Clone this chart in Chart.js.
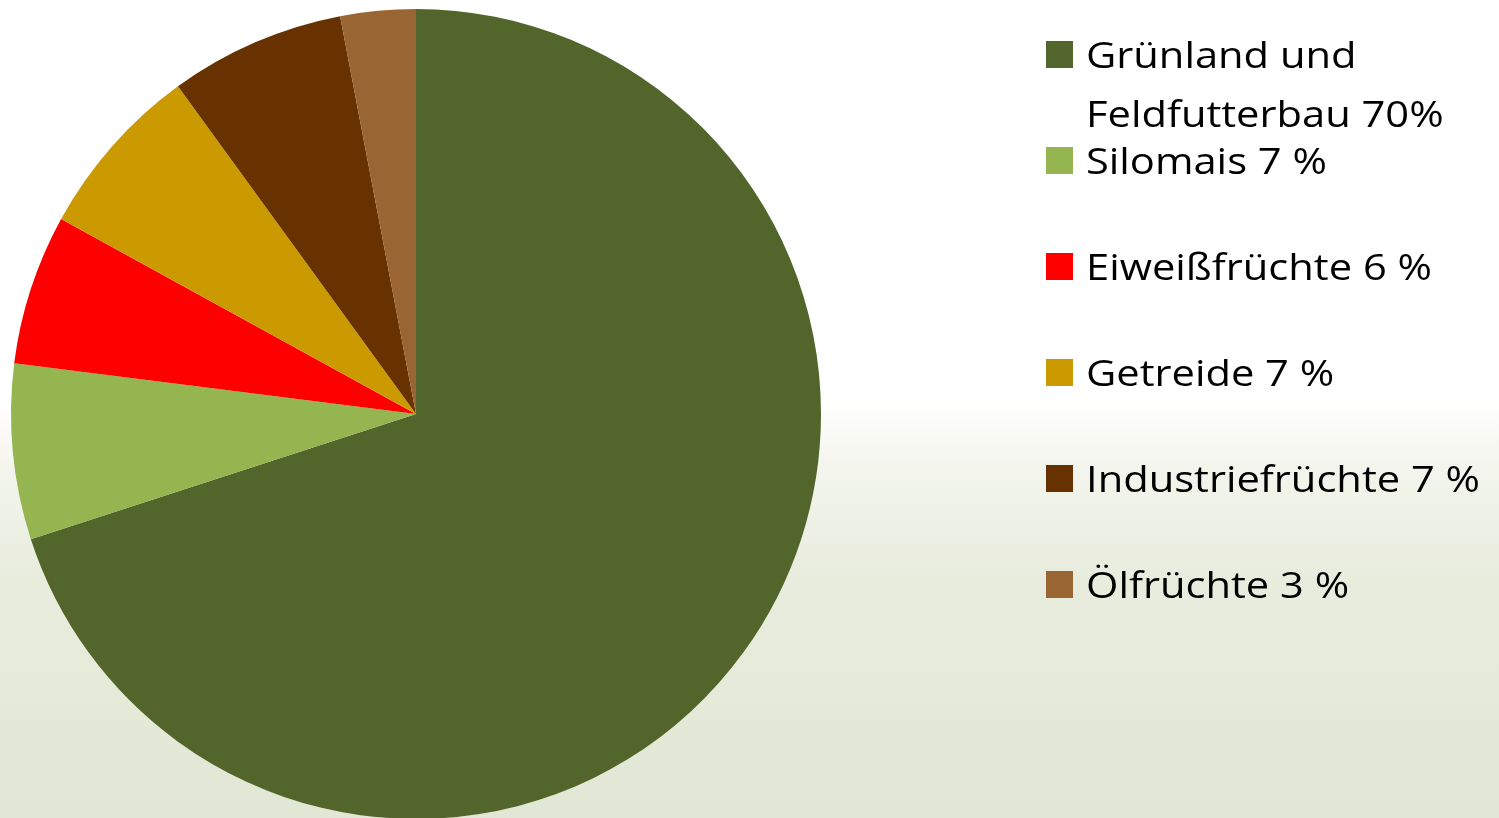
<!DOCTYPE html>
<html>
<head>
<meta charset="utf-8">
<script src="https://cdn.jsdelivr.net/npm/chart.js@4.4.1/dist/chart.umd.min.js"></script>
<style>
  html, body { margin: 0; padding: 0; width: 1499px; height: 818px; overflow: hidden; }
  body {
    background: linear-gradient(to bottom, #ffffff 0px, #ffffff 400px, #f3f5ec 470px, #e8ecdd 580px, #e1e7d4 818px);
  }
  #wrap { position: absolute; left: 0; top: 0; width: 1499px; height: 830px; }
</style>
</head>
<body>
<div id="wrap"><canvas id="pie"></canvas></div>
<script>
// Anteile an der Ackerfläche
const labels = [
    ["Grünland und", "Feldfutterbau 70%"],
    ["Silomais 7 %"],
    ["Eiweißfrüchte 6 %"],
    ["Getreide 7 %"],
    ["Industriefrüchte 7 %"],
    ["Ölfrüchte 3 %"]
];
const values = [70, 7, 6, 7, 7, 3];
const colors = ["#52652b", "#94b54f", "#fe0000", "#cb9900", "#673200", "#986533"];

// legend drawn by hand so the first entry can wrap onto two lines
const sideLegend = {
    id: 'sideLegend',
    afterDraw(chart) {
        const ctx = chart.ctx;
        const boxX = 1046, box = 27, textX = 1086;
        ctx.save();
        ctx.font = '36px "Open Sans", Lato, sans-serif';
        ctx.textBaseline = "alphabetic";
        // the original font runs wider; stretch so the longest entry spans ~394px
        const sx = 394 / ctx.measureText("Industriefrüchte 7 %").width;
        labels.forEach((lines, i) => {
            const y = 68 + i * 106;
            ctx.fillStyle = colors[i];
            ctx.fillRect(boxX, y - box, box, box);
            ctx.fillStyle = "#000";
            lines.forEach((line, j) => {
                ctx.save();
                ctx.translate(textX, y + j * 59);
                ctx.scale(sx, 1);
                ctx.fillText(line, 0, 0);
                ctx.restore();
            });
        });
        ctx.restore();
    }
};

new Chart(document.getElementById('pie'), {
    type: 'pie',
    data: {
        labels: labels.map(l => l.join(" ")),
        datasets: [{
            data: values,
            backgroundColor: colors,
            borderWidth: 0,
            hoverOffset: 0,
            offset: 0
        }]
    },
    options: {
        responsive: true,
        maintainAspectRatio: false,
        animation: false,
        layout: { padding: { left: 11, top: 9, right: 678, bottom: 11 } },
        plugins: {
            legend: { display: false },
            tooltip: { enabled: false }
        }
    },
    plugins: [sideLegend]
});
</script>
</body>
</html>
